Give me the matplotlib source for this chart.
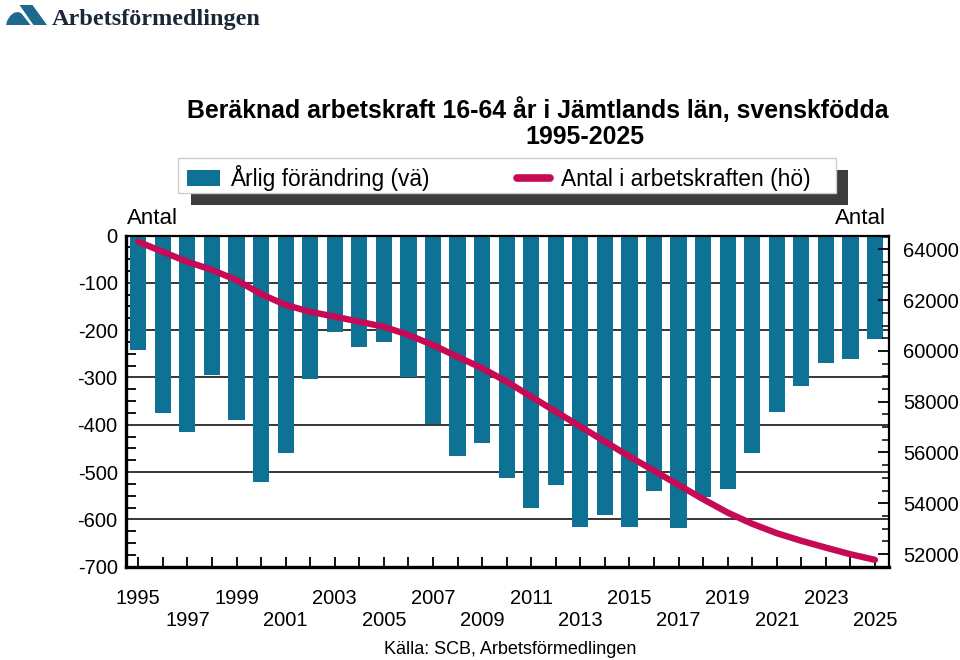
import matplotlib
matplotlib.use("Agg")
import matplotlib.pyplot as plt
from matplotlib.patches import Patch, Polygon, Rectangle
from matplotlib.lines import Line2D
from matplotlib.ticker import MultipleLocator, FixedLocator

# ---- data ----
years = list(range(1995, 2026))
annual_change = [-242, -376, -415, -295, -390, -520, -459, -304, -205, -235,
                 -226, -300, -399, -466, -439, -512, -575, -528, -617, -591,
                 -617, -540, -619, -552, -535, -459, -373, -318, -269, -261, -219]
labour_force = [64300, 63900, 63510, 63190, 62790, 62240, 61810, 61540, 61350, 61150,
                60950, 60630, 60230, 59770, 59320, 58790, 58200, 57610, 57020, 56430,
                55840, 55280, 54720, 54160, 53630, 53190, 52820, 52520, 52250, 51990, 51770]
left_ticks = [0, -100, -200, -300, -400, -500, -600, -700]
right_ticks = [52000, 54000, 56000, 58000, 60000, 62000, 64000]

title1 = "Beräknad arbetskraft 16-64 år i Jämtlands län, svenskfödda"
title2 = "1995-2025"
legend_labels = ["Årlig förändring (vä)", "Antal i arbetskraften (hö)"]
source = "Källa: SCB, Arbetsförmedlingen"

BAR = "#0d7294"
LINE = "#c70a55"

plt.rcParams['font.family'] = ['Liberation Sans', 'DejaVu Sans']

W, H = 960, 660
fig = plt.figure(figsize=(W / 100, H / 100), dpi=100)


def fx(x):
    return x / W


def fy(y):
    return 1 - y / H


ax_l, ax_r, ax_t, ax_b = 126, 889, 235.5, 566.7
ax = fig.add_axes([fx(ax_l), fy(ax_b), (ax_r - ax_l) / W, (ax_b - ax_t) / H])
ax.set_axisbelow(True)
ax.bar(years, annual_change, width=0.66, color=BAR, zorder=2)
ax.set_xlim(1994.5, 2025.57)
ax.set_ylim(-700, 0)
ax.yaxis.set_major_locator(FixedLocator(left_ticks))
ax.yaxis.set_minor_locator(MultipleLocator(25))
ax.set_yticklabels([str(v) for v in left_ticks])
ax.grid(axis='y', color='black', linewidth=1.1)

ax.set_xticks(years)
xl = []
for y in years:
    d = y - 1995
    if d % 4 == 0:
        xl.append(str(y))
    elif d % 4 == 2:
        xl.append("\n" + str(y))
    else:
        xl.append("")
ax.set_xticklabels(xl, linespacing=1.2)
ax.tick_params(axis='x', direction='in', length=7, width=1.3, pad=16, labelsize=14.5)
ax.tick_params(axis='y', which='major', direction='in', length=0, pad=6, labelsize=14.5)
ax.tick_params(axis='y', which='minor', direction='in', length=7, width=1.3)
for s in ['left', 'bottom']:
    ax.spines[s].set_linewidth(2.4)
for s in ['top', 'right']:
    ax.spines[s].set_linewidth(1.6)

ax2 = ax.twinx()
ax2.plot(years, labour_force, color=LINE, linewidth=4.6, solid_capstyle='round',
         solid_joinstyle='round', zorder=5)
ax2.set_ylim(51500, 64545)
ax2.yaxis.set_major_locator(FixedLocator(right_ticks))
ax2.yaxis.set_minor_locator(MultipleLocator(500))
ax2.set_yticklabels([str(v) for v in right_ticks])
ax2.tick_params(axis='y', which='major', direction='in', length=8, width=1.3, pad=10, labelsize=14.5)
ax2.tick_params(axis='y', which='minor', direction='in', length=5, width=1.1)
for s in ax2.spines.values():
    s.set_visible(False)
ax.spines['right'].set_zorder(6)

# axis unit labels
fig.text(fx(127), fy(219), "Antal", ha='left', va='center', fontsize=16)
fig.text(fx(886), fy(219), "Antal", ha='right', va='center', fontsize=16)

# title
fig.text(fx(538), fy(110), title1, ha='center', va='center', fontsize=17.9, fontweight='bold')
fig.text(fx(585), fy(137), title2, ha='center', va='center', fontsize=17.9, fontweight='bold')

# legend box with drop shadow
fig.add_artist(Rectangle((fx(191), fy(205)), (848 - 191) / W, (205 - 170) / H,
                         transform=fig.transFigure, facecolor='#3c3c3c',
                         edgecolor='none', zorder=1))
fig.add_artist(Rectangle((fx(178), fy(192.5)), (836 - 178) / W, (192.5 - 157.5) / H,
                         transform=fig.transFigure, facecolor='white',
                         edgecolor='#cccccc', linewidth=1.0, zorder=2))
handles = [Patch(facecolor=BAR, edgecolor='none'),
           Line2D([0], [0], color=LINE, linewidth=5.5, solid_capstyle='round')]
leg = fig.legend(handles, legend_labels, ncol=2, loc='upper left',
                 bbox_to_anchor=(fx(180), fy(158)), borderaxespad=0,
                 fontsize=16.4, frameon=False, handlelength=1.45, handleheight=0.7,
                 handletextpad=0.45, columnspacing=3.85, borderpad=0.3)
leg.set_zorder(3)

# source
fig.text(fx(510), fy(650), source, ha='center', va='center', fontsize=13)

# logo
logo_col = '#1d6a8e'
hump = [(6, 25), (7.5, 20), (10.5, 15.5), (14.5, 12.5), (18.5, 12), (21.5, 13.5), (30.5, 25)]
bar = [(19.5, 5), (32.5, 5), (47, 25), (33.5, 25)]
for poly in (hump, bar):
    fig.add_artist(Polygon([(fx(x), fy(y)) for x, y in poly], closed=True,
                           transform=fig.transFigure, facecolor=logo_col, edgecolor='none'))
fig.text(fx(52), fy(25), "Arbetsförmedlingen", ha='left', va='baseline',
         fontsize=17.5, family=['Liberation Serif', 'DejaVu Serif'], fontweight='bold',
         color='#1c2838')

fig.savefig("out.png", dpi=100)
